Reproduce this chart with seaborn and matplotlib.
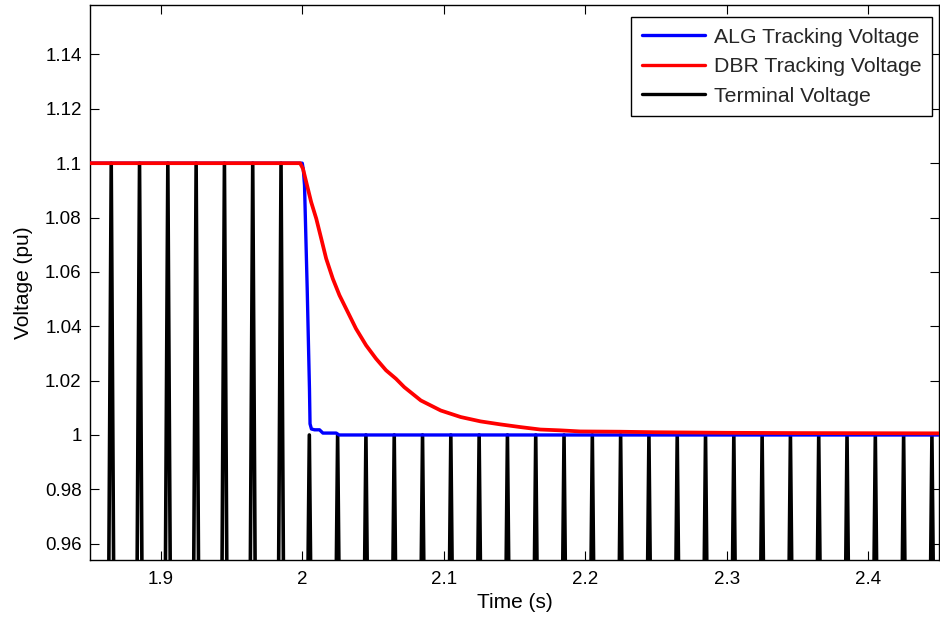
import numpy as np
import pandas as pd
import matplotlib
matplotlib.use("Agg")
import matplotlib.pyplot as plt
from matplotlib.ticker import FuncFormatter
import seaborn as sns

# ---------------- data ----------------
alg_t = [1.85, 2.0, 2.0008, 2.0016, 2.0035, 2.0051, 2.0055, 2.0065, 2.0087,
         2.0122, 2.0146, 2.024, 2.026, 2.45]
alg_v = [1.1, 1.1, 1.0975, 1.0919, 1.0538, 1.017, 1.0041, 1.0022, 1.0019,
         1.0019, 1.0007, 1.0007, 1.0, 1.0]

dbr_t = [1.85, 1.9985, 2.0005, 2.0028, 2.0063, 2.0099, 2.0134, 2.0169, 2.0216,
         2.0263, 2.0322, 2.0380, 2.0451, 2.0521, 2.0592, 2.0662, 2.0721,
         2.0838, 2.0979, 2.112, 2.126, 2.140, 2.1542, 2.1683, 2.1824,
         2.1965, 2.2246, 2.25, 2.30, 2.35, 2.45]
dbr_v = [1.1, 1.1, 1.098, 1.0931, 1.0857, 1.0796, 1.0723, 1.0649, 1.0575,
         1.0514, 1.0452, 1.0391, 1.033, 1.0281, 1.0238, 1.0207, 1.0176,
         1.0127, 1.009, 1.0066, 1.005, 1.0039, 1.0029, 1.002, 1.0017,
         1.0013, 1.0012, 1.001, 1.0008, 1.0007, 1.0006]

# terminal voltage: peak times and peak values of the sampled waveform
term_peak_t = [1.865, 1.885, 1.905, 1.925, 1.945, 1.965, 1.985,
               2.005, 2.025, 2.045, 2.065, 2.085, 2.105, 2.125, 2.145,
               2.165, 2.185, 2.205, 2.225, 2.245, 2.265, 2.285, 2.305,
               2.325, 2.345, 2.365, 2.385, 2.405, 2.425, 2.445]
term_peak_v = [1.1] * 7 + [1.0] * 23
term_sample_v = 0.85          # neighbouring samples (below visible range)
term_sample_dt = 0.00284      # time from neighbouring sample to peak

series_names = ["ALG Tracking Voltage", "DBR Tracking Voltage", "Terminal Voltage"]
series_colors = ["#0000ff", "#ff0000", "#000000"]

xticks = [1.9, 2.0, 2.1, 2.2, 2.3, 2.4]
yticks = [0.96, 0.98, 1.0, 1.02, 1.04, 1.06, 1.08, 1.1, 1.12, 1.14]

# build terminal sample sequence
term_t, term_v = [], []
for tp, vp in zip(term_peak_t, term_peak_v):
    term_t += [tp - term_sample_dt, tp, tp + term_sample_dt]
    term_v += [term_sample_v, vp, term_sample_v]

# ---------------- plot ----------------
sns.set_theme(style="white")
plt.rcParams["font.family"] = ["Liberation Sans", "DejaVu Sans"]

fig = plt.figure(figsize=(9.4, 6.22), dpi=100)
ax = fig.add_axes([90 / 940, 62 / 622, 849 / 940, 555 / 622])

sns.lineplot(x=term_t, y=term_v, ax=ax, color=series_colors[2], lw=2.6,
             sort=False, estimator=None, label=series_names[2], zorder=2)
sns.lineplot(x=alg_t, y=alg_v, ax=ax, color=series_colors[0], lw=2.4,
             sort=False, estimator=None, label=series_names[0], zorder=3)
sns.lineplot(x=dbr_t, y=dbr_v, ax=ax, color=series_colors[1], lw=2.7,
             sort=False, estimator=None, label=series_names[1], zorder=4)

ax.set_xlim(1.85, 2.45)
ax.set_ylim(0.954, 1.1582)
ax.set_xticks(xticks)
ax.set_yticks(yticks)
fmt = FuncFormatter(lambda v, p: ("%g" % round(v, 4)))
ax.xaxis.set_major_formatter(fmt)
ax.yaxis.set_major_formatter(fmt)

ax.tick_params(direction="in", length=6.5, width=0.8, color="black",
               labelsize=13.5, labelcolor="black", top=True, right=True,
               bottom=True, left=True)
ax.tick_params(axis="y", pad=6)
ax.tick_params(axis="x", pad=8)
for s in ax.spines.values():
    s.set_color("black")
    s.set_linewidth(1.0)
    s.set_visible(True)

ax.set_xlabel("Time (s)", fontsize=15, color="black")
ax.set_ylabel("Voltage (pu)", fontsize=15, color="black")
ax.xaxis.set_label_coords(0.5, -0.059)
ax.yaxis.set_label_coords(-0.067, 0.5)

handles, labels = ax.get_legend_handles_labels()
order = [labels.index(n) for n in series_names]
leg = ax.legend([handles[i] for i in order], [labels[i] for i in order],
                loc="upper right", bbox_to_anchor=(0.9918, 0.9784),
                borderaxespad=0, fontsize=15.3, frameon=True, fancybox=False,
                edgecolor="black", framealpha=1, handlelength=3.0,
                handletextpad=0.4, labelspacing=0.5, borderpad=0.5)
leg.get_frame().set_linewidth(1.0)
for h in leg.get_lines():
    h.set_linewidth(2.4)

fig.savefig("out.png", dpi=100)
